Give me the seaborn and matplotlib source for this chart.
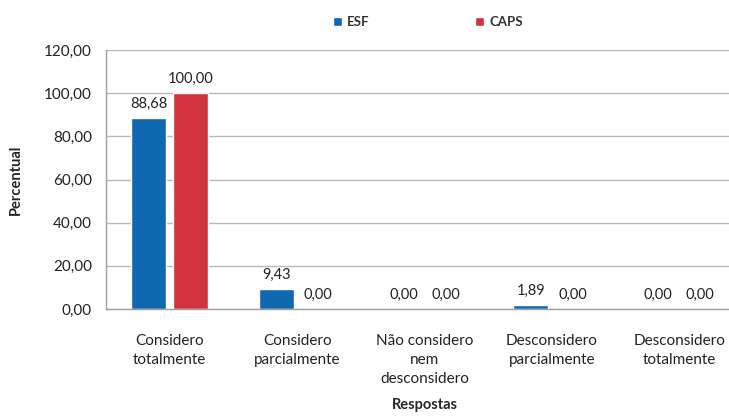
import matplotlib
matplotlib.use("Agg")
import matplotlib.pyplot as plt
import seaborn as sns
import pandas as pd

categories = ["Considero\ntotalmente", "Considero\nparcialmente", "Não considero\nnem\ndesconsidero",
              "Desconsidero\nparcialmente", "Desconsidero\ntotalmente"]
series_names = ["ESF", "CAPS"]
esf_values = [88.68, 9.43, 0.00, 1.89, 0.00]
caps_values = [100.00, 0.00, 0.00, 0.00, 0.00]
y_ticks = [0, 20, 40, 60, 80, 100, 120]
colors = {"ESF": "#1068B0", "CAPS": "#D2343F"}

df = pd.DataFrame({
    "Respostas": categories * 2,
    "Percentual": esf_values + caps_values,
    "Serie": [series_names[0]] * 5 + [series_names[1]] * 5,
})

sns.set_style("white")
plt.rcParams["font.family"] = ["Lato", "DejaVu Sans"]

fig = plt.figure(figsize=(7.29, 4.16), dpi=100)
ax = fig.add_axes([106 / 729, 1 - 309 / 416, 637 / 729, 259 / 416])

sns.barplot(data=df, x="Respostas", y="Percentual", hue="Serie", palette=colors,
            width=0.66, gap=0.17, ax=ax, legend=True, saturation=1)

ax.set_xlim(-0.5, 4.5)
ax.set_ylim(0, 120)
ax.set_yticks(y_ticks)
ax.set_yticklabels([f"{v:.2f}".replace(".", ",") for v in y_ticks], fontsize=11, color="#222222")
ax.tick_params(axis="y", length=4, color="#a0a0a0", width=1, pad=6)
ax.tick_params(axis="x", length=0, pad=18, labelsize=11, labelcolor="#222222")
for lbl in ax.get_xticklabels():
    lbl.set_linespacing(1.45)
ax.grid(axis="y", color="#b8b8b8", linewidth=1)
ax.set_axisbelow(True)
for s in ["top", "right"]:
    ax.spines[s].set_visible(False)
for s in ["left", "bottom"]:
    ax.spines[s].set_color("#a0a0a0")
    ax.spines[s].set_linewidth(1)

for cont in ax.containers:
    ax.bar_label(cont, labels=[f"{v:.2f}".replace(".", ",") for v in cont.datavalues],
                 padding=5, fontsize=10.5, color="#222222")

ax.set_ylabel("Percentual", fontsize=10.5, fontweight="bold")
ax.yaxis.set_label_coords(-0.13, 0.5)
ax.set_xlabel("Respostas", fontsize=10.5, fontweight="bold")
ax.xaxis.set_label_coords((425 - 106) / 637, -(405 - 309) / 259)
ax.xaxis.label.set_va("center")

leg = ax.legend(loc="center", bbox_to_anchor=((428 - 106) / 637, 1 + 28 / 259), ncol=2,
                frameon=False, fontsize=9.5, handlelength=0.7, handleheight=0.7,
                columnspacing=8.0, handletextpad=0.4)
for t in leg.get_texts():
    t.set_fontweight("bold")
    t.set_color("#333333")

fig.savefig("out.png", dpi=100)
